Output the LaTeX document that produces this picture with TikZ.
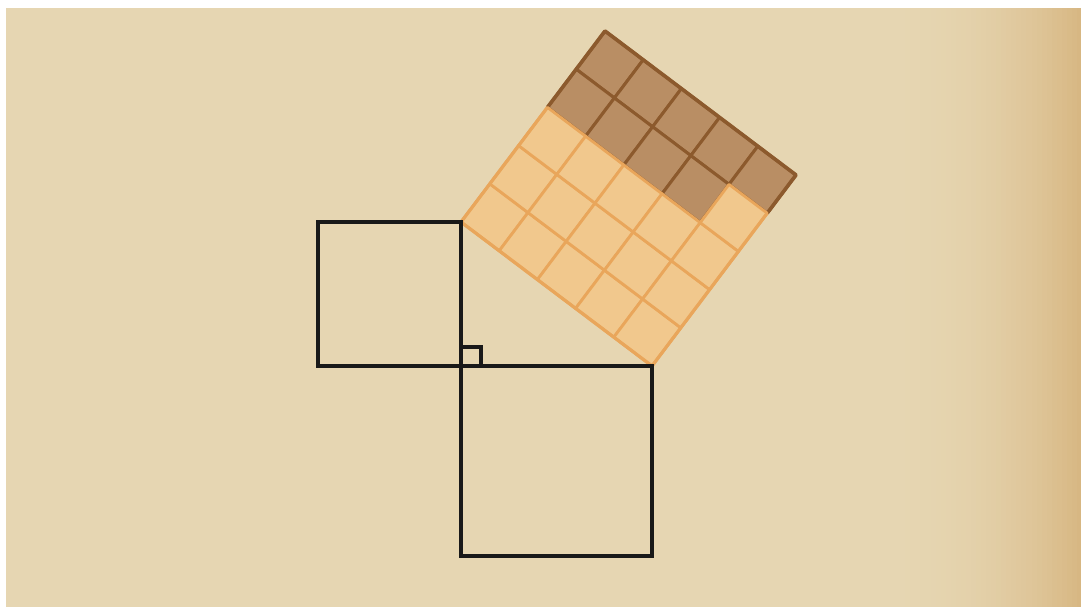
\documentclass[tikz,border=0pt]{standalone}
\usetikzlibrary{calc}
\definecolor{bgA}{HTML}{E6D6B2}
\definecolor{bgD}{HTML}{D6B47E}
\definecolor{lightfill}{HTML}{F1C88D}
\definecolor{lightline}{HTML}{E9A65B}
\definecolor{darkfill}{HTML}{B98E64}
\definecolor{darkline}{HTML}{8C5A2D}
\tikzset{
  blackline/.style={draw=black!90, line width=3.2pt, line join=miter},
  lightcell/.style={draw=lightline, line width=2.8pt, fill=lightfill, line join=round},
  darkcell/.style={draw=darkline, line width=3pt, fill=darkfill, line join=round},
}
\newcommand{\cellpath}[2]{(#1,#2) -- ++(1,0) -- ++(0,1) -- ++(-1,0) -- cycle}
\begin{document}
\begin{tikzpicture}[x=1pt,y=-1pt]
\useasboundingbox (0,0) rectangle (1081,611);
\fill[white] (0,0) rectangle (1081,611);
\fill[bgA] (6,8) rectangle (1081,607);
% darkening toward the right edge
\foreach \k in {0,...,39}{
  \pgfmathsetmacro{\p}{(\k/39)^2.2*90}
  \fill[bgD!\p!bgA] ({880+\k*5.05},8) rectangle ({886+\k*5.05},607);
}
% triangle corners
\coordinate (R) at (461,366);
\coordinate (T) at (461,222);
\coordinate (B) at (652,366);
% hypotenuse square with 5x5 grid
\begin{scope}[shift={(461pt,-222pt)}, x={(38.2pt,-28.8pt)}, y={(28.8pt,38.2pt)}]
  \foreach \i in {0,...,4}{\draw[darkcell] \cellpath{\i}{4};}
  \foreach \i in {0,...,3}{\draw[darkcell] \cellpath{\i}{3};}
  \draw[darkline, line width=3.6pt, line join=round] (0,3) -- (0,5) -- (5,5) -- (5,4);
  \foreach \j in {0,1,2}{\foreach \i in {0,...,4}{\draw[lightcell] \cellpath{\i}{\j};}}
  \draw[lightcell] \cellpath{4}{3};
  \draw[lightline, line width=3.2pt, line join=round] (0,3) -- (0,0) -- (5,0) -- (5,4);
\end{scope}
% left square (side 3) and bottom square (side 4)
\draw[blackline] (318,222) rectangle (R);
\draw[blackline] (R) rectangle (652,556);
\draw[blackline] (T) -- (R) -- (B);
% right-angle mark
\draw[blackline] (R) ++(0,-19) -- ++(20,0) -- ++(0,19);
\end{tikzpicture}
\end{document}
